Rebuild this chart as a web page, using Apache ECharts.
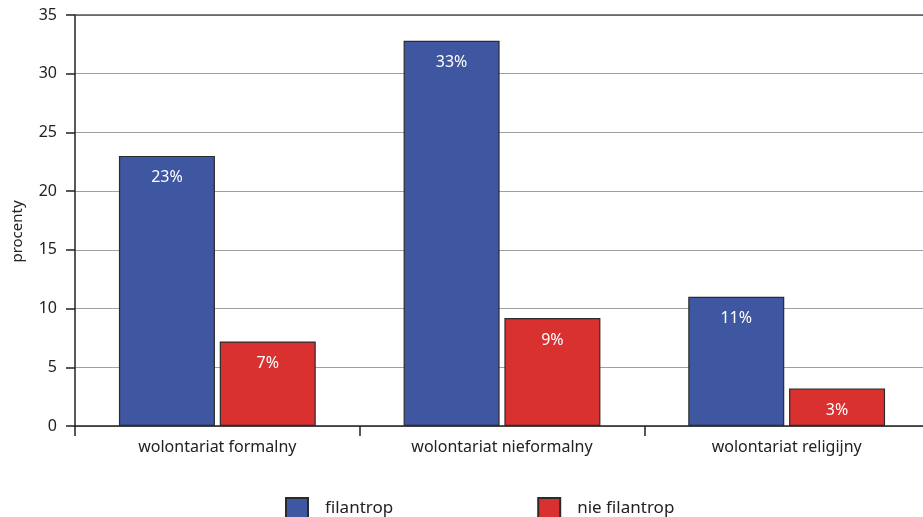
<!DOCTYPE html>
<html>
<head>
<meta charset="utf-8">
<script src="https://cdn.jsdelivr.net/npm/echarts@6/dist/echarts.min.js"></script>
<style>
  html, body { margin: 0; padding: 0; background: #fff; }
  #chart { width: 923px; height: 517px; }
</style>
</head>
<body>
<div id="chart"></div>
<script>
// Udział w wolontariacie wg typu (procenty)
const categories = ['wolontariat formalny', 'wolontariat nieformalny', 'wolontariat religijny'];
const seriesNames = ['filantrop', 'nie filantrop'];
const filantrop = [23, 32.8, 11];
const nieFilantrop = [7.2, 9.2, 3.2];
const yTicks = [0, 5, 10, 15, 20, 25, 30, 35];

const FONT = '"Noto Sans", "Open Sans", sans-serif';
const BLUE = '#3f56a0';
const RED = '#d93030';
const EDGE = '#2b2b2b';

const chart = echarts.init(document.getElementById('chart'));

const labelCfg = {
  show: true,
  position: 'insideTop',
  distance: 14,
  color: '#ffffff',
  fontFamily: FONT,
  fontSize: 16,
  formatter: p => Math.round(p.value) + '%'
};

chart.setOption({
  animation: false,
  grid: { left: 75, right: -6, top: 15, bottom: 91, containLabel: false, outerBoundsMode: 'none' },
  legend: {
    data: seriesNames,
    top: 497,
    left: 285,
    padding: 0,
    itemWidth: 22,
    itemHeight: 21,
    itemGap: 144,
    textStyle: { fontFamily: FONT, fontSize: 17, color: '#222', padding: [0, 0, 0, 12] },
    icon: 'rect'
  },
  xAxis: [{
    type: 'category',
    data: categories,
    axisLine: { show: true, lineStyle: { color: '#222', width: 1.5 } },
    axisTick: { show: true, length: 10, lineStyle: { color: '#222', width: 1.5 } },
    axisLabel: { fontFamily: FONT, fontSize: 16, color: '#222', margin: 13 }
  }, {
    type: 'category',
    position: 'top',
    data: categories,
    axisLine: { show: true, lineStyle: { color: '#555', width: 1.5 } },
    axisTick: { show: false },
    axisLabel: { show: false }
  }],
  yAxis: {
    type: 'value',
    min: yTicks[0],
    max: yTicks[yTicks.length - 1],
    interval: 5,
    name: 'procenty',
    nameLocation: 'middle',
    nameGap: 50,
    nameTextStyle: { fontFamily: FONT, fontSize: 15, color: '#222', padding: [0, 22, 0, 0] },
    axisLine: { show: true, lineStyle: { color: '#222', width: 1.5 } },
    axisTick: { show: true, length: 9, lineStyle: { color: '#222', width: 1.5 } },
    axisLabel: { fontFamily: FONT, fontSize: 16, color: '#222', margin: 18 },
    splitLine: { show: true, lineStyle: { color: '#a0a0a0', width: 1.2 } }
  },
  series: [{
    name: seriesNames[0],
    type: 'bar',
    data: filantrop,
    barWidth: 96,
    barGap: '5%',
    itemStyle: { color: BLUE, borderColor: EDGE, borderWidth: 1.2 },
    label: labelCfg
  }, {
    name: seriesNames[1],
    type: 'bar',
    data: nieFilantrop,
    barWidth: 96,
    barGap: '5%',
    itemStyle: { color: RED, borderColor: EDGE, borderWidth: 1.2 },
    label: labelCfg
  }]
});
</script>
</body>
</html>
